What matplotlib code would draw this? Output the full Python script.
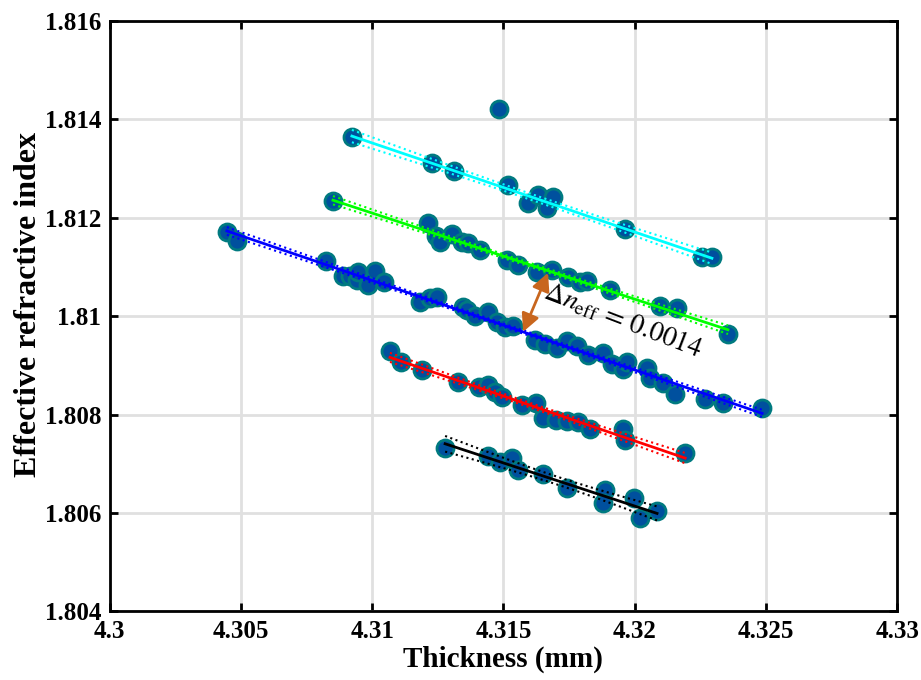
import numpy as np
import matplotlib
matplotlib.use('Agg')
import matplotlib.pyplot as plt
from matplotlib.ticker import FuncFormatter

# thickness (mm) / effective index, one group per fitted line
cyan_x = [4.30923, 4.31228, 4.31312, 4.31518, 4.31594, 4.31632, 4.31666, 4.31689, 4.31963, 4.32256, 4.32294]
cyan_y = [1.81364, 1.81311, 1.81295, 1.81266, 1.81230, 1.81246, 1.81220, 1.81242, 1.81177, 1.81120, 1.81120]

outlier_x = [4.31483]
outlier_y = [1.81421]

green_x = [4.30851, 4.31213, 4.31243, 4.31259, 4.31304, 4.31342, 4.31365, 4.31411, 4.31514, 4.31556,
           4.31628, 4.31685, 4.31746, 4.31792, 4.31818, 4.31906, 4.32096, 4.32161, 4.32355]
green_y = [1.81234, 1.81189, 1.81163, 1.81151, 1.81167, 1.81151, 1.81149, 1.81134, 1.81114, 1.81104,
           1.81090, 1.81094, 1.81079, 1.81069, 1.81071, 1.81053, 1.81021, 1.81016, 1.80964]

blue_x = [4.30447, 4.30486, 4.30824, 4.30889, 4.30916, 4.30943, 4.30946, 4.30984, 4.31011, 4.31045,
          4.31182, 4.31220, 4.31247, 4.31346, 4.31361, 4.31392, 4.31441, 4.31476, 4.31506, 4.31537,
          4.31620, 4.31658, 4.31704, 4.31742, 4.31780, 4.31822, 4.31879, 4.31914, 4.31955, 4.31971,
          4.32047, 4.32058, 4.32108, 4.32153, 4.32268, 4.32336, 4.32485]
blue_y = [1.81171, 1.81153, 1.81112, 1.81082, 1.81082, 1.81073, 1.81090, 1.81063, 1.81092, 1.81069,
          1.81029, 1.81037, 1.81039, 1.81018, 1.81012, 1.81000, 1.81008, 1.80988, 1.80978, 1.80980,
          1.80951, 1.80943, 1.80935, 1.80949, 1.80939, 1.80921, 1.80925, 1.80903, 1.80892, 1.80907,
          1.80894, 1.80874, 1.80864, 1.80842, 1.80832, 1.80823, 1.80813]

red_x = [4.31068, 4.31110, 4.31190, 4.31327, 4.31407, 4.31441, 4.31468, 4.31495, 4.31571, 4.31624,
         4.31651, 4.31700, 4.31742, 4.31784, 4.31830, 4.31955, 4.31963, 4.32192]
red_y = [1.80929, 1.80907, 1.80890, 1.80866, 1.80856, 1.80860, 1.80846, 1.80836, 1.80819, 1.80823,
         1.80793, 1.80789, 1.80787, 1.80785, 1.80771, 1.80771, 1.80748, 1.80722]

black_x = [4.31278, 4.31441, 4.31487, 4.31533, 4.31556, 4.31651, 4.31742, 4.31887, 4.31879, 4.31997,
           4.32020, 4.32085]
black_y = [1.80732, 1.80716, 1.80703, 1.80712, 1.80687, 1.80679, 1.80651, 1.80647, 1.80620, 1.80630,
           1.80590, 1.80604]

groups = [(cyan_x, cyan_y, '#00FFFF'), (green_x, green_y, '#00FF00'), (blue_x, blue_y, '#0000FF'),
          (red_x, red_y, '#FF0000'), (black_x, black_y, 'k')]

x_ticks = [4.3, 4.305, 4.31, 4.315, 4.32, 4.325, 4.33]
y_ticks = [1.804, 1.806, 1.808, 1.81, 1.812, 1.814, 1.816]

delta_label = r'$\mathit{\Delta n}_{\mathrm{eff}}\,=\,0.0014$'
arrow_top = (4.31670, 1.81088)
arrow_bottom = (4.31575, 1.80968)
label_pos = (4.31958, 1.80990)

plt.rcParams['font.family'] = ['Liberation Serif', 'DejaVu Serif']
plt.rcParams['mathtext.fontset'] = 'cm'

fig = plt.figure(figsize=(9.21, 6.8), dpi=100)
ax = fig.add_axes([0.1189, 0.1010, 0.8554, 0.8682])

def fit_with_bounds(x, y):
	# straight-line fit plus 95% confidence bounds of the fit
	x = np.asarray(x)
	y = np.asarray(y)
	n = len(x)
	p = np.polyfit(x, y, 1)
	res = y - np.polyval(p, x)
	s = np.sqrt(np.sum(res**2) / (n - 2))
	t = 1.96 + 2.5 / (n - 2)
	xx = np.linspace(x.min(), x.max(), 200)
	yy = np.polyval(p, xx)
	half = t * s * np.sqrt(1.0 / n + (xx - x.mean())**2 / np.sum((x - x.mean())**2))
	return xx, yy, yy - half, yy + half

marker_kw = dict(s=150, facecolor='#00509E', edgecolor='#007A80', linewidths=2, zorder=3)

for gx, gy, c in groups:
	ax.scatter(gx, gy, **marker_kw)
ax.scatter(outlier_x, outlier_y, **marker_kw)

for gx, gy, c in groups:
	xx, yy, lo, hi = fit_with_bounds(gx, gy)
	ax.plot(xx, yy, '-', color=c, lw=2, zorder=4)
	ax.plot(xx, lo, ':', color=c, lw=1.5, zorder=4)
	ax.plot(xx, hi, ':', color=c, lw=1.5, zorder=4)

ax.annotate('', xy=arrow_top, xytext=arrow_bottom,
			arrowprops=dict(arrowstyle='<|-|>,head_length=0.9,head_width=0.45', color='#C8661E',
							lw=2, shrinkA=0, shrinkB=0, mutation_scale=12), zorder=5)
ax.text(label_pos[0], label_pos[1], delta_label, fontsize=20, rotation=-21,
		ha='center', va='center', rotation_mode='anchor', zorder=5, math_fontfamily='stix')

ax.set_xlim(4.3, 4.33)
ax.set_ylim(1.804, 1.816)
ax.set_xticks(x_ticks)
ax.set_yticks(y_ticks)
ax.xaxis.set_major_formatter(FuncFormatter(lambda v, pos: '%g' % round(v, 4)))
ax.yaxis.set_major_formatter(FuncFormatter(lambda v, pos: '%g' % round(v, 4)))
for lab in ax.get_xticklabels() + ax.get_yticklabels():
	lab.set_fontweight('bold')
ax.tick_params(direction='in', length=6, width=2, labelsize=18, top=True, right=True, pad=6)
for sp_ in ax.spines.values():
	sp_.set_linewidth(2)
ax.grid(True, color='#E0E0E0', lw=2)
ax.set_axisbelow(True)

ax.set_xlabel('Thickness (mm)', fontsize=21, fontweight='bold', labelpad=2)
ax.set_ylabel('Effective refractive index', fontsize=23, fontweight='bold')
ax.yaxis.set_label_coords(-0.085, 0.52)

fig.savefig('out.png', dpi=100)
